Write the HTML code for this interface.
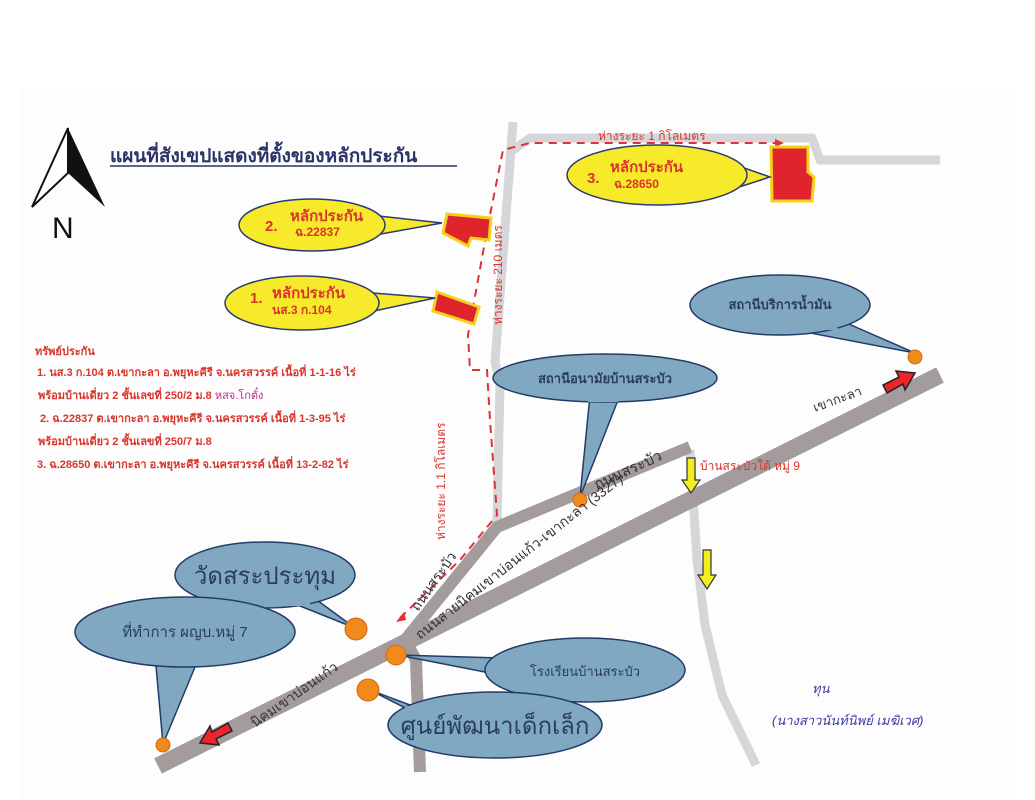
<!DOCTYPE html>
<html><head><meta charset="utf-8"><style>
html,body{margin:0;padding:0;background:#fff;}
svg{display:block;font-family:"Liberation Sans","Noto Sans CJK SC","WenQuanYi Zen Hei",sans-serif;}
</style></head><body>
<svg width="1035" height="800" viewBox="0 0 1035 800" xmlns="http://www.w3.org/2000/svg">
<rect width="1035" height="800" fill="#fff"/>
<rect x="20" y="88" width="990" height="712" fill="#fdfdfd"/>
<g fill="none" stroke="#d6d6da" stroke-width="9" stroke-linejoin="round">
<polyline points="513,122 495,362 500,385 497,522"/>
<polyline points="513,150 530,138 812,138 820,160 940,160"/>
<polyline points="690,450 697,560 705,625 722,695 756,765"/>
</g>
<g fill="none" stroke="#a49b9d" stroke-linejoin="round">
<polyline points="420,772 416,660 405,640 497,527 690,447" stroke-width="12"/>
<line x1="158" y1="766" x2="940" y2="375" stroke-width="17"/>
</g>
<g fill="none" stroke="#e0303a" stroke-width="2" stroke-dasharray="8,6">
<polyline points="400,618 460,560 497,515 490,420 487,370 470,370 468,335 488,225 503,150 530,143 775,143"/>
</g>
<g fill="#e0303a">
<polygon points="775,139 784,143 775,147"/>
<polygon points="396,622 404,612 406,620"/>
</g>
<g fill="#e0242e" stroke="#f5d21a" stroke-width="3">
<polygon points="771,147 808,147 808,172 814,177 812,201 772,201"/>
<polygon points="447,214 491,218 489,240 471,238 468,246 443,233"/>
<polygon points="437,292 479,307 474,324 433,311"/>
</g>
<!-- yellow callouts -->
<g fill="#f6ea2a" stroke="#2b3a70" stroke-width="1.5">
<polygon points="370,215 442,223 370,236"/>
<ellipse cx="312" cy="225" rx="73" ry="26"/>
<polygon points="360,292 435,298 360,314"/>
<ellipse cx="302" cy="303" rx="77" ry="27"/>
<polygon points="730,163 770,177 730,190"/>
<ellipse cx="657" cy="175" rx="90" ry="30"/>
</g>
<g fill="#f6ea2a">
<rect x="368" y="218" width="8" height="15"/>
<rect x="358" y="295" width="8" height="16"/>
<rect x="725" y="166" width="10" height="21"/>
</g>
<g fill="#d8362c" font-weight="bold" font-size="15">
<text x="265" y="231">2.</text><text x="290" y="221">หลักประกัน</text><text x="295" y="236" font-size="12">ฉ.22837</text>
<text x="250" y="303">1.</text><text x="272" y="298">หลักประกัน</text><text x="272" y="314" font-size="12">นส.3 ก.104</text>
<text x="587" y="183">3.</text><text x="610" y="172">หลักประกัน</text><text x="614" y="188" font-size="12">ฉ.28650</text>
</g>
<!-- blue callouts -->
<g fill="#80a9c1" stroke="#243a6a" stroke-width="1.5">
<polygon points="835,318 915,353 805,332"/>
<ellipse cx="780" cy="305" rx="90" ry="30"/>
<polygon points="620,395 580,497 590,395"/>
<ellipse cx="605" cy="378" rx="112" ry="24"/>
<polygon points="310,595 355,628 285,600"/>
<ellipse cx="265" cy="575" rx="90" ry="33"/>
<polygon points="200,655 163,744 155,655"/>
<ellipse cx="185" cy="632" rx="110" ry="35"/>
<polygon points="500,658 398,655 500,675"/>
<ellipse cx="585" cy="670" rx="100" ry="32"/>
<polygon points="410,705 370,690 425,718"/>
<ellipse cx="495" cy="725" rx="107" ry="33"/>
</g>
<g fill="#80a9c1">
<polygon points="830,322 810,330 840,330"/>
<rect x="588" y="392" width="30" height="10"/>
<rect x="288" y="596" width="22" height="10"/>
<rect x="157" y="655" width="42" height="10"/>
<rect x="492" y="660" width="10" height="14"/>
<rect x="405" y="706" width="22" height="12"/>
</g>
<g fill="#2a3d5c" font-size="13" font-weight="bold">
<text x="780" y="309" text-anchor="middle">สถานีบริการน้ำมัน</text>
<text x="605" y="383" text-anchor="middle">สถานีอนามัยบ้านสระบัว</text>
<text x="265" y="584" text-anchor="middle" font-size="24" font-weight="normal">วัดสระประทุม</text>
<text x="185" y="637" text-anchor="middle" font-size="15" font-weight="normal">ที่ทำการ ผญบ.หมู่ 7</text>
<text x="585" y="676" text-anchor="middle" font-size="13" font-weight="normal">โรงเรียนบ้านสระบัว</text>
<text x="495" y="734" text-anchor="middle" font-size="24" font-weight="normal">ศูนย์พัฒนาเด็กเล็ก</text>
</g>
<g fill="#f08a1c" stroke="#d06a10" stroke-width="1">
<circle cx="915" cy="357" r="7"/><circle cx="580" cy="500" r="7"/>
<circle cx="356" cy="629" r="11"/><circle cx="396" cy="655" r="10"/>
<circle cx="368" cy="690" r="11"/><circle cx="163" cy="745" r="7"/>
</g>
<g fill="#e8262c" stroke="#222" stroke-width="1.5">
<polygon points="883,385 899,377 896,371 915,373 905,390 903,384 887,393"/>
<polygon points="232,731 216,739 219,745 200,743 210,726 212,732 228,723"/>
</g>
<g fill="#f2ef20" stroke="#333" stroke-width="1.2">
<polygon points="687,458 695,458 695,480 700,480 691,493 682,480 687,480"/>
<polygon points="703,550 711,550 711,575 716,575 707,589 698,575 703,575"/>
</g>
<g fill="#333" font-size="13">
<text transform="translate(815,412) rotate(-20)">เขากะลา</text>
<text transform="translate(597,490) rotate(-25)" font-size="15">ถนนสระบัว</text>
<text transform="translate(420,640) rotate(-38)" font-size="14">ถนนสายนิคมเขาบ่อนแก้ว-เขากะลา (3327)</text>
<text transform="translate(418,612) rotate(-55)" font-size="14">ถนนสระบัว</text>
<text transform="translate(255,728) rotate(-35)" font-size="14">นิคมเขาบ่อนแก้ว</text>
</g>
<g fill="#d8362c" font-size="12">
<text x="700" y="470">บ้านสระบัวใต้ หมู่ 9</text>
<text x="598" y="140">ห่างระยะ 1  กิโลเมตร</text>
<text transform="translate(502,325) rotate(-90)">ห่างระยะ 210 เมตร</text>
<text transform="translate(445,540) rotate(-90)">ห่างระยะ 1.1  กิโลเมตร</text>
</g>
<text x="110" y="162" font-size="19" font-weight="bold" fill="#2a3368">แผนที่สังเขปแสดงที่ตั้งของหลักประกัน</text>
<line x1="110" y1="166" x2="457" y2="166" stroke="#2a3368" stroke-width="1.5"/>
<polygon points="68,128 32,207 68,173" fill="#fff" stroke="#111" stroke-width="2"/>
<polygon points="68,128 105,207 68,173" fill="#111"/>
<text x="52" y="238" font-size="30" fill="#111">N</text>
<g fill="#d8362c" font-size="11" font-weight="bold">
<text x="35" y="355">ทรัพย์ประกัน</text>
<text x="37" y="376">1. นส.3 ก.104  ต.เขากะลา อ.พยุหะคีรี  จ.นครสวรรค์  เนื้อที่ 1-1-16 ไร่</text>
<text x="38" y="399">พร้อมบ้านเดี่ยว 2 ชั้นเลขที่  250/2 ม.8 <tspan fill="#c03080" font-weight="normal">หสจ.โกตั๋ง</tspan></text>
<text x="40" y="422">2. ฉ.22837 ต.เขากะลา อ.พยุหะคีรี  จ.นครสวรรค์  เนื้อที่ 1-3-95 ไร่</text>
<text x="38" y="445">พร้อมบ้านเดี่ยว 2 ชั้นเลขที่  250/7 ม.8</text>
<text x="37" y="468">3. ฉ.28650 ต.เขากะลา อ.พยุหะคีรี  จ.นครสวรรค์  เนื้อที่ 13-2-82 ไร่</text>
</g>
<g fill="#3a3aa8" font-size="13" font-style="italic">
<text x="812" y="693">ทุน</text>
<text x="772" y="725">(นางสาวนันท์นิพย์  เมฆิเวศ)</text>
</g>
</svg>
</body></html>
